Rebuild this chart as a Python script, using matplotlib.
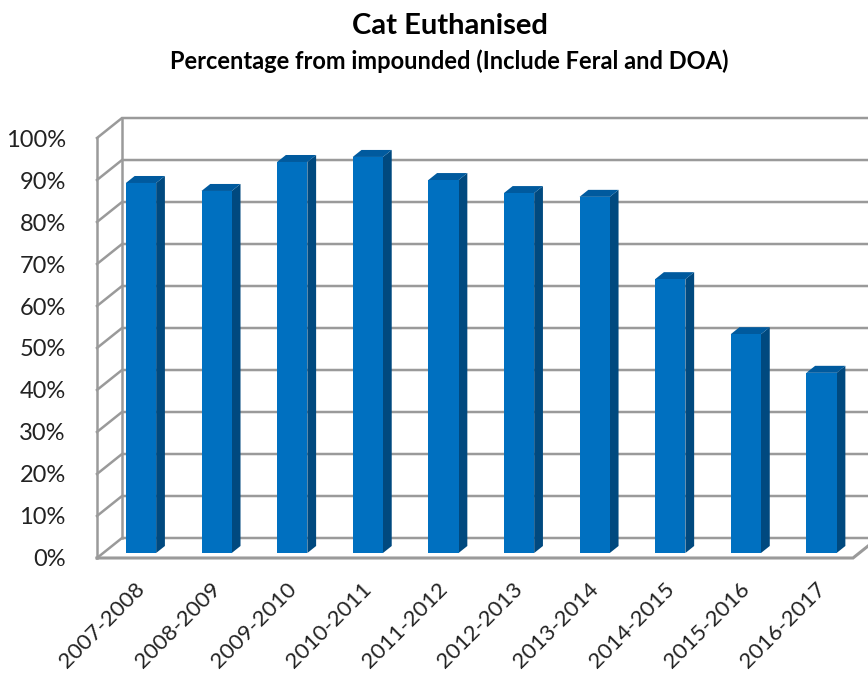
import numpy as np
import matplotlib.pyplot as plt
from matplotlib.patches import Polygon

seasons = ['2007-2008', '2008-2009', '2009-2010', '2010-2011', '2011-2012',
           '2012-2013', '2013-2014', '2014-2015', '2015-2016', '2016-2017']
euthanised_pct = [88.1, 86.2, 93.1, 94.3, 88.8, 85.7, 84.8, 65.2, 52.1, 42.9]
y_ticks = list(range(0, 101, 10))

plt.rcParams['font.family'] = ['Lato', 'DejaVu Sans']

# fake 3d: offset of the back wall relative to the front plane (data units)
DX, DY = 0.331, 4.76
BAR_W = 0.4
D0, D1 = 0.25, 0.6   # bar front/back depth as fraction of the full depth

front_col = '#0070C0'
side_col = '#00497F'
top_col = '#005A9E'
grid_col = '#9A9A9A'

fig = plt.figure(figsize=(8.68, 6.75), dpi=100)
ax = fig.add_axes([0.103, 0.1609, 0.897, 0.6782])
ax.set_xlim(-0.6, 9.698)
ax.set_ylim(-2, 107)
for s in ax.spines.values():
    s.set_visible(False)

n = len(seasons)
x0 = -0.5
x1 = n - 0.5
xmax = 12

# left wall + gridlines on the back wall
for v in y_ticks:
    ax.plot([x0, x0 + DX, xmax], [v, v + DY, v + DY], color=grid_col, lw=1.8,
            solid_joinstyle='miter', zorder=1)
ax.plot([x0, x0], [0, 100], color=grid_col, lw=1.8, zorder=1)
ax.plot([x0 + DX, x0 + DX], [DY, 100 + DY], color=grid_col, lw=1.8, zorder=1)
# floor front edge
ax.plot([x0, x1, x1 + DX], [0, 0, DY], color=grid_col, lw=2.2,
        solid_joinstyle='miter', zorder=1)

# bars: front, side and top faces
for i, v in enumerate(euthanised_pct):
    l = i - BAR_W / 2 + D0 * DX
    r = l + BAR_W
    b = D0 * DY
    t = b + v
    ddx = (D1 - D0) * DX
    ddy = (D1 - D0) * DY
    ax.add_patch(Polygon([(r, b), (r + ddx, b + ddy), (r + ddx, t + ddy), (r, t)],
                         closed=True, fc=side_col, ec='none', zorder=3))
    ax.add_patch(Polygon([(l, t), (r, t), (r + ddx, t + ddy), (l + ddx, t + ddy)],
                         closed=True, fc=top_col, ec='none', zorder=3))
    ax.add_patch(Polygon([(l, b), (r, b), (r, t), (l, t)],
                         closed=True, fc=front_col, ec='none', zorder=4))

ax.set_yticks(y_ticks)
ax.set_yticklabels([f'{v}%' for v in y_ticks], fontsize=17, color='#222222')
ax.set_xticks(range(n))
ax.set_xticklabels(seasons, fontsize=16, rotation=45, ha='right',
                   rotation_mode='anchor', color='#222222')
ax.tick_params(axis='y', length=0, pad=17)
ax.tick_params(axis='x', length=0, pad=9)

fig.text(0.518, 0.962, 'Cat Euthanised', ha='center', va='center',
         fontsize=21, fontweight='bold')
fig.text(0.518, 0.91, 'Percentage from impounded (Include Feral and DOA)',
         ha='center', va='center', fontsize=17, fontweight='bold')

fig.savefig('out.png', dpi=100)
